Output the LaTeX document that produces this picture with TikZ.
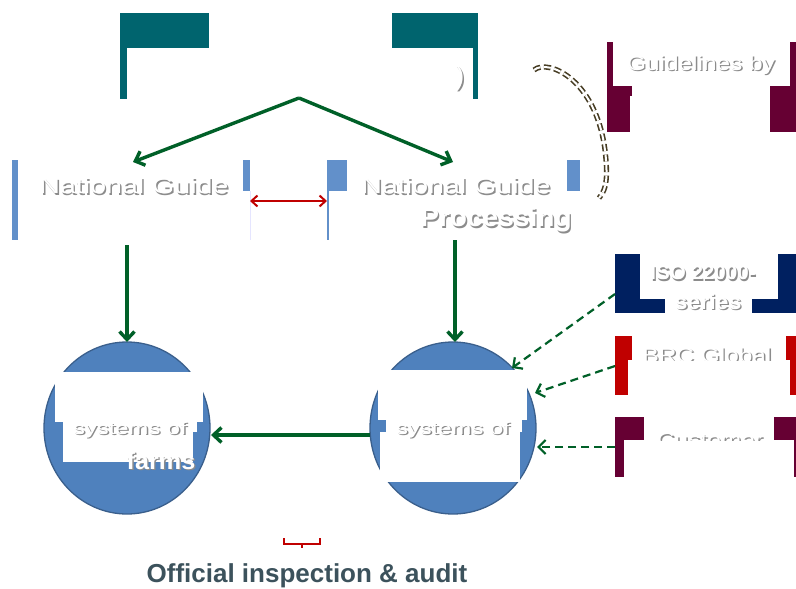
\documentclass[tikz,border=0pt]{standalone}
\usepackage{fontspec}
\setmainfont{Liberation Sans}
\usetikzlibrary{arrows.meta}
\definecolor{tealbox}{RGB}{0,100,110}
\definecolor{bluebox}{RGB}{98,144,202}
\definecolor{circfill}{RGB}{79,129,189}
\definecolor{circline}{RGB}{58,95,140}
\definecolor{grn}{RGB}{0,96,40}
\definecolor{redc}{RGB}{192,0,0}
\definecolor{maroon}{RGB}{102,0,51}
\definecolor{navy}{RGB}{0,32,96}
\definecolor{olive}{RGB}{70,60,35}
\definecolor{slate}{RGB}{60,82,92}
% #1 name, #2 position, #3 font, #4 horizontal scale, #5 text
\newcommand\ShText[5]{%
  \node[text=black!45,font=#3,xshift=1.4pt,yshift=-1.4pt,inner sep=0pt] at (#2) {\scalebox{#4}[1]{#5}};
  \node[text=white,font=#3,inner sep=0pt] (#1) at (#2) {\scalebox{#4}[1]{#5}};}
\tikzset{
  garrow/.style={draw=grn, line width=3.4pt, -{Straight Barb[length=8pt,width=15pt]}},
  gdash/.style={draw=grn, line width=2.2pt, dash pattern=on 8pt off 5pt, -{Straight Barb[length=7pt,width=14pt]}},
  rarrow/.style={draw=redc, line width=2pt, {Straight Barb[length=6pt,width=11pt]}-{Straight Barb[length=6pt,width=11pt]}},
}
\begin{document}
\begin{tikzpicture}[x=1pt,y=-1pt]
\fill[white] (0,0) rectangle (796,589);
\useasboundingbox (0,0) rectangle (796,589);

% top teal box
\fill[tealbox] (120,13) rectangle (478,99);
\fill[white] (209,13) rectangle (392,48);
\fill[white] (127,48) rectangle (473,99);
\ShText{paren}{460,78}{\fontsize{26}{28}\selectfont}{1}{)}
\coordinate (topc) at (299,98);

% National Guide boxes
\fill[bluebox] (12,160) rectangle (250,240);
\fill[white] (18,160) rectangle (243,191);
\fill[white] (18,191) rectangle (250,240);
\draw[blue!10] (250,191) -- (250,240);
\fill[bluebox] (327,160) rectangle (580,240);
\fill[white] (347,160) rectangle (567,191);
\fill[white] (329,191) rectangle (580,240);
\ShText{ngl}{134,186}{\fontsize{22}{24}\selectfont}{1.3}{National Guide}
\ShText{ngr}{456,186}{\fontsize{22}{24}\selectfont}{1.3}{National Guide}
\ShText{proc}{496,220}{\fontsize{26}{28}\selectfont\bfseries}{1.08}{Processing}
\coordinate (ngl-e) at (250,201);
\coordinate (ngr-w) at (327,201);
\coordinate (ngl-top) at (133,162);
\coordinate (ngr-top) at (453,162);
\coordinate (ngl-bot) at (127,245);
\coordinate (ngr-bot) at (455,240);

% Guidelines by box
\fill[maroon] (607,42) rectangle (796,132);
\fill[white] (613,42) rectangle (790,86);
\fill[white] (632,86) rectangle (770,96);
\fill[white] (630,96) rectangle (770,132);
\ShText{guid}{701,65}{\fontsize{20}{22}\selectfont}{1.22}{Guidelines by}

% ISO box
\fill[navy] (615,254) rectangle (796,313);
\fill[white] (640,254) rectangle (778,299);
\fill[white] (665,299) rectangle (752,313);
\ShText{iso1}{703,273}{\fontsize{20}{22}\selectfont\bfseries}{1.03}{ISO 22000-}
\ShText{iso2}{708,302}{\fontsize{21}{22}\selectfont\bfseries}{1.1}{series}

% BRC box
\fill[redc] (615,336) rectangle (796,395);
\fill[white] (632,336) rectangle (786,360);
\fill[white] (628,360) rectangle (790,395);
\begin{scope}
\clip (620,330) rectangle (786,360);
\ShText{brc}{707,355}{\fontsize{20}{22}\selectfont}{1.22}{BRC Global}
\end{scope}

% Customer box
\fill[maroon] (615,417) rectangle (796,477);
\fill[white] (644,417) rectangle (774,440);
\fill[white] (624,440) rectangle (794,477);
\begin{scope}
\clip (620,410) rectangle (774,440);
\ShText{cust}{710,440}{\fontsize{20}{22}\selectfont}{1.22}{Customer}
\end{scope}

% circles
\draw[fill=circfill, draw=circline, line width=1.3pt] (127,428) ellipse [x radius=83, y radius=86];
\fill[white] (55,372) rectangle (203,422);
\fill[white] (63,422) rectangle (197,432);
\fill[white] (63,432) rectangle (193,462);
\ShText{sysl}{130,430}{\fontsize{17}{18}\selectfont}{1.4}{systems of}
\ShText{farms}{161,461}{\fontsize{24}{26}\selectfont\bfseries}{1.05}{farms}
\coordinate (cl-top) at (127,342);
\coordinate (cl-e) at (211,435);

\draw[fill=circfill, draw=circline, line width=1.3pt] (453,428) ellipse [x radius=83, y radius=86];
\fill[white] (378,370) rectangle (527,420);
\fill[white] (386,420) rectangle (522,432);
\fill[white] (380,432) rectangle (520,482);
\ShText{sysr}{453,430}{\fontsize{17}{18}\selectfont}{1.4}{systems of}
\coordinate (cr-top) at (455,342);
\coordinate (cr-w) at (370,435);
\coordinate (cr-ne) at (512,368);
\coordinate (cr-e1) at (535,393);
\coordinate (cr-e2) at (537,447);

% connectors
\draw[garrow] (topc) -- (ngl-top);
\draw[garrow] (topc) -- (ngr-top);
\draw[garrow] (ngl-bot) -- (cl-top);
\draw[garrow] (ngr-bot) -- (cr-top);
\draw[garrow] (cr-w) -- (cl-e);
\draw[rarrow] (ngl-e) -- (ngr-w);
\coordinate (iso-w) at (615,294);
\coordinate (brc-w) at (615,366);
\coordinate (cust-w) at (615,447);
\draw[gdash] (iso-w) -- (cr-ne);
\draw[gdash] (brc-w) -- (cr-e1);
\draw[gdash] (cust-w) -- (cr-e2);

% dashed curve
\coordinate (cv-s) at (534,70);
\coordinate (cv-e) at (599,198);
\draw[olive, line width=1.6pt, double=white, double distance=2pt, dash pattern=on 7pt off 3.5pt]
  (cv-s) .. controls (548,58) and (600,80) .. (606,160) .. controls (608,185) and (604,192) .. (cv-e);

% red brace
\coordinate (br-l) at (284,538);
\coordinate (br-r) at (320,538);
\draw[redc, line width=1.6pt] (br-l) -- ++(0,6) -- ++(36,0) -- (br-r);
\draw[redc, line width=1.6pt] (302,544) -- (302,548);

\node[text=slate, font=\fontsize{26}{28}\selectfont\bfseries] (oia) at (307,576) {Official inspection \& audit};
\end{tikzpicture}
\end{document}
